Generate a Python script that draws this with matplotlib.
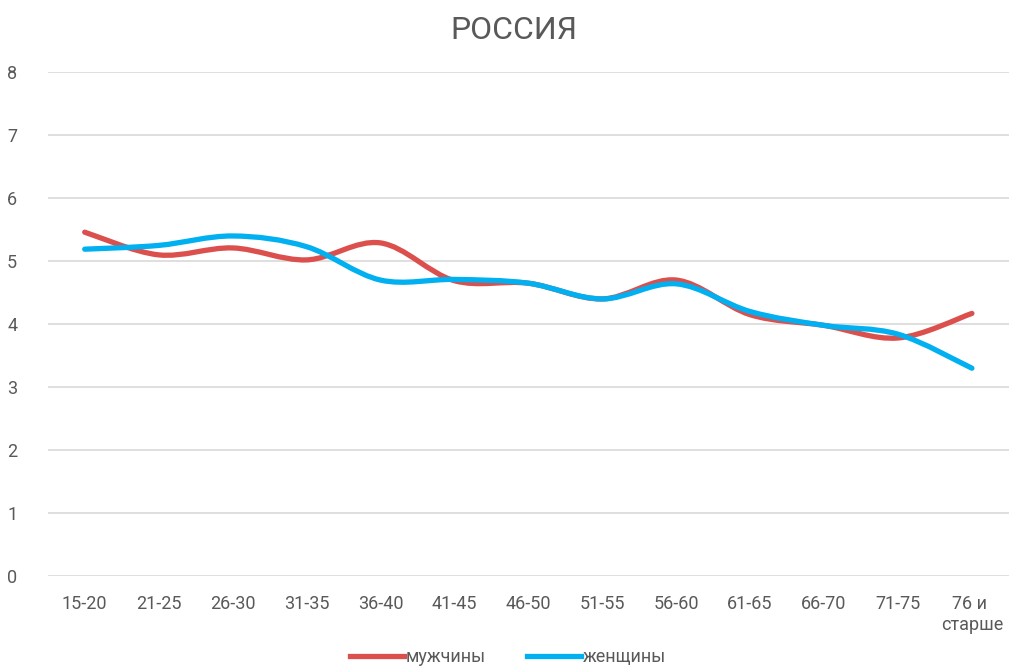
import matplotlib
matplotlib.use('Agg')
import matplotlib.pyplot as plt
import numpy as np
from matplotlib.path import Path
from matplotlib.patches import PathPatch
from matplotlib.lines import Line2D

plt.rcParams['font.family'] = ['Roboto', 'DejaVu Sans']

groups = ['15-20', '21-25', '26-30', '31-35', '36-40', '41-45', '46-50',
          '51-55', '56-60', '61-65', '66-70', '71-75', '76 и \nстарше']
men = [5.46, 5.10, 5.21, 5.02, 5.29, 4.69, 4.65, 4.40, 4.70, 4.15, 3.98, 3.78, 4.17]
women = [5.19, 5.25, 5.40, 5.23, 4.70, 4.71, 4.65, 4.40, 4.64, 4.20, 3.98, 3.84, 3.30]
y_ticks = [0, 1, 2, 3, 4, 5, 6, 7, 8]

red = '#DB504D'
blue = '#00B0F0'
grey = '#595959'


def smooth_path(xs, ys):
    # bezier segments like office "smoothed line"
    pts = np.column_stack([xs, ys]).astype(float)
    n = len(pts)
    verts = [pts[0]]
    codes = [Path.MOVETO]
    for i in range(n - 1):
        p0 = pts[i - 1] if i > 0 else pts[i]
        p1 = pts[i]
        p2 = pts[i + 1]
        p3 = pts[i + 2] if i + 2 < n else pts[i + 1]
        c1 = p1 + (p2 - p0) / 6
        c2 = p2 - (p3 - p1) / 6
        verts += [c1, c2, p2]
        codes += [Path.CURVE4] * 3
    return Path(verts, codes)


fig = plt.figure(figsize=(10.16, 6.69), dpi=100)
ax = fig.add_axes([0.047, 0.139, 0.946, 0.753])

x = np.arange(len(groups))
for vals, col in [(men, red), (women, blue)]:
    ax.add_patch(PathPatch(smooth_path(x, vals), fill=False, edgecolor=col,
                           linewidth=3.8, capstyle='round', joinstyle='round'))

ax.set_xlim(-0.5, len(groups) - 0.5)
ax.set_ylim(0, 8)
ax.set_yticks(y_ticks)
ax.set_xticks(x)
ax.set_xticklabels(groups, multialignment='center')
ax.grid(axis='y', color='#D9D9D9', linewidth=1.2)
ax.set_axisbelow(True)
for s in ax.spines.values():
    s.set_visible(False)
ax.tick_params(axis='both', length=0, colors=grey, labelsize=13)
ax.tick_params(axis='x', pad=14)
ax.tick_params(axis='y', pad=22)

fig.text(0.506, 0.955, 'РОССИЯ', ha='center', va='center', fontsize=23, color=grey)

handles = [Line2D([], [], color=red, linewidth=3.8),
           Line2D([], [], color=blue, linewidth=3.8)]
fig.legend(handles, ['мужчины', 'женщины'], loc='center', bbox_to_anchor=(0.5, 0.018),
           ncol=2, frameon=False, fontsize=13, handlelength=3.0, handletextpad=0.1,
           columnspacing=2.3, labelcolor=grey)

fig.savefig('out.png', dpi=100)
